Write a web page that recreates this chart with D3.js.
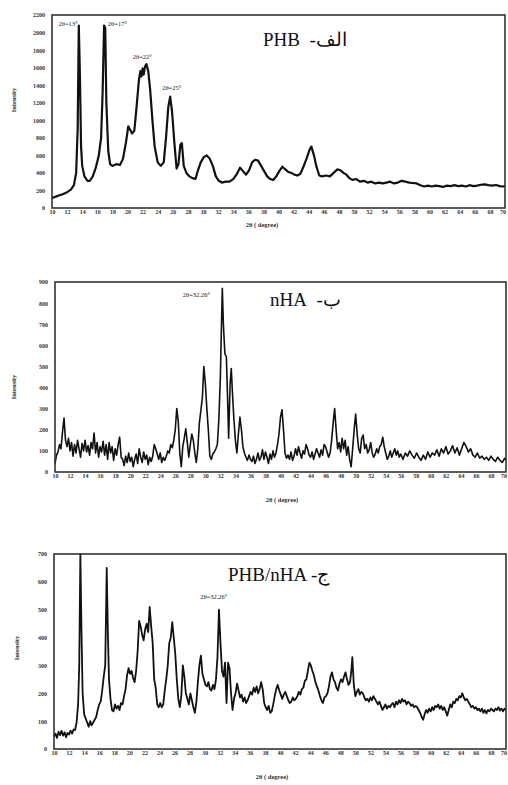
<!DOCTYPE html>
<html><head><meta charset="utf-8">
<script src="https://cdn.jsdelivr.net/npm/d3@7"></script>
<style>body{margin:0;background:#fff}svg{display:block}</style>
</head><body>
<svg id="c" width="508" height="785"></svg>
<script>
// ---------- DATA ----------
const xTicks = d3.range(10, 71, 2);
const phbYTicks = [0,200,400,600,800,1000,1200,1400,1600,1800,2000,2200];
const nhaYTicks = [0,100,200,300,400,500,600,700,800,900];
const compYTicks = [0,100,200,300,400,500,600,700];

const panelTitles = ["PHB\u00A0 -الف", "nHA\u00A0 -ب", "PHB/nHA -ج"];
const xTitle = "2θ ( degree)";
const yTitle = "Intensity";

// [theta, intensity, text, anchor]
const phbLabels = [[13.4,2075,"2θ=13°","end"],[17.4,2075,"2θ=17°","start"],[20.7,1700,"2θ=22°","start"],[24.6,1345,"2θ=25°","start"]];
const nhaLabels = [[27.0,829,"2θ=32.26°","start"]];
const compLabels = [[29.4,538,"2θ=32.26°","start"]];

const phbData = [[10,110],[10.5,130],[11,145],[11.5,160],[12,180],[12.5,210],[12.9,260],[13.2,400],[13.4,900],[13.55,2080],[13.7,1500],[13.85,700],[14,480],[14.3,360],[14.7,310],[15,310],[15.4,360],[15.8,460],[16.2,600],[16.5,800],[16.7,1300],[16.9,2080],[17.05,2050],[17.2,1200],[17.45,650],[17.7,500],[18,480],[18.5,500],[19,490],[19.4,560],[19.8,750],[20.1,930],[20.3,900],[20.6,850],[20.9,880],[21.2,1150],[21.5,1450],[21.7,1560],[21.85,1500],[22,1590],[22.15,1520],[22.3,1610],[22.5,1640],[22.75,1560],[23,1350],[23.3,1000],[23.6,700],[24,520],[24.4,480],[24.8,520],[25.1,800],[25.4,1150],[25.65,1270],[25.9,1100],[26.2,750],[26.5,450],[26.75,500],[27,720],[27.2,740],[27.45,480],[27.8,400],[28.2,360],[28.6,340],[29,330],[29.3,420],[29.7,520],[30.1,580],[30.5,600],[30.9,560],[31.3,480],[31.7,360],[32.1,310],[32.5,290],[33,300],[33.5,300],[34,330],[34.5,390],[34.9,460],[35.3,420],[35.7,380],[36.1,430],[36.5,520],[36.9,550],[37.3,540],[37.7,480],[38.1,420],[38.5,360],[38.9,330],[39.3,320],[39.7,360],[40.1,420],[40.5,470],[40.9,440],[41.3,410],[41.7,400],[42.1,380],[42.5,370],[42.9,390],[43.3,470],[43.7,560],[44.1,660],[44.35,700],[44.7,600],[45,480],[45.4,370],[45.8,360],[46.3,370],[46.8,360],[47.3,400],[47.8,440],[48.2,430],[48.6,400],[49,380],[49.4,340],[49.8,320],[50.3,330],[50.8,300],[51.3,310],[51.8,290],[52.3,300],[52.8,280],[53.3,290],[53.8,280],[54.3,290],[54.8,300],[55.3,280],[55.8,290],[56.3,310],[56.8,300],[57.3,290],[57.8,285],[58.3,280],[58.8,260],[59.3,245],[59.8,255],[60.3,245],[60.8,255],[61.3,250],[61.8,240],[62.3,255],[62.8,250],[63.3,260],[63.8,250],[64.3,255],[64.8,245],[65.3,260],[65.8,250],[66.3,255],[66.8,265],[67.3,270],[67.8,260],[68.3,255],[68.8,262],[69.3,250],[69.8,245],[70,250]];

const nhaData = [[10,40],[10.2,80],[10.4,95],[10.6,130],[10.8,110],[11,190],[11.2,255],[11.4,150],[11.6,120],[11.8,160],[12,100],[12.2,140],[12.4,75],[12.6,130],[12.8,90],[13,150],[13.2,110],[13.4,70],[13.6,135],[13.8,100],[14,150],[14.2,95],[14.4,125],[14.6,80],[14.8,140],[15,110],[15.2,185],[15.4,90],[15.6,140],[15.8,70],[16,120],[16.2,95],[16.4,145],[16.6,80],[16.8,130],[17,60],[17.2,140],[17.4,90],[17.6,120],[17.8,55],[18,110],[18.2,80],[18.4,130],[18.6,165],[18.8,70],[19,60],[19.2,30],[19.4,75],[19.6,45],[19.8,90],[20,50],[20.2,70],[20.4,25],[20.6,60],[20.8,85],[21,40],[21.2,110],[21.4,70],[21.6,45],[21.8,95],[22,60],[22.2,80],[22.4,35],[22.6,70],[22.8,50],[23,75],[23.2,130],[23.4,110],[23.6,85],[23.8,60],[24,90],[24.2,45],[24.4,70],[24.6,55],[24.8,75],[25,100],[25.2,90],[25.4,130],[25.6,115],[25.8,150],[26,200],[26.2,300],[26.4,240],[26.6,90],[26.8,25],[27,120],[27.2,160],[27.4,205],[27.6,140],[27.8,70],[28,130],[28.2,180],[28.4,150],[28.6,90],[28.8,45],[29,110],[29.2,230],[29.4,290],[29.6,350],[29.8,500],[30,420],[30.2,300],[30.4,200],[30.6,75],[30.8,60],[31,85],[31.2,95],[31.4,110],[31.6,130],[31.8,250],[32,450],[32.15,700],[32.26,870],[32.4,700],[32.6,560],[32.8,545],[33,300],[33.1,160],[33.3,420],[33.45,490],[33.6,380],[33.8,250],[34,150],[34.2,90],[34.4,180],[34.6,260],[34.8,200],[35,120],[35.2,90],[35.4,70],[35.6,55],[35.8,80],[36,60],[36.2,50],[36.4,75],[36.6,40],[36.8,60],[37,90],[37.2,55],[37.4,70],[37.6,105],[37.8,60],[38,95],[38.2,70],[38.4,40],[38.6,85],[38.8,60],[39,100],[39.2,70],[39.4,90],[39.6,130],[39.8,180],[40,260],[40.2,295],[40.4,200],[40.6,90],[40.8,65],[41,80],[41.2,60],[41.4,95],[41.6,55],[41.8,75],[42,110],[42.2,80],[42.4,120],[42.6,90],[42.8,65],[43,100],[43.2,85],[43.4,130],[43.6,110],[43.8,80],[44,70],[44.2,95],[44.4,60],[44.6,85],[44.8,110],[45,90],[45.2,70],[45.4,105],[45.6,80],[45.8,130],[46,120],[46.2,95],[46.4,70],[46.6,90],[46.8,150],[47,230],[47.2,300],[47.4,200],[47.6,110],[47.8,140],[48,95],[48.2,160],[48.4,110],[48.6,150],[48.8,80],[49,120],[49.2,60],[49.4,25],[49.6,110],[49.8,200],[50,275],[50.2,180],[50.4,110],[50.6,90],[50.8,160],[51,175],[51.2,110],[51.4,130],[51.6,90],[51.8,105],[52,140],[52.2,90],[52.4,70],[52.6,85],[52.8,110],[53,90],[53.2,120],[53.4,130],[53.6,165],[53.8,120],[54,90],[54.2,60],[54.4,75],[54.6,100],[54.8,70],[55,90],[55.2,110],[55.4,80],[55.6,100],[55.8,70],[56,85],[56.3,60],[56.6,90],[56.9,75],[57.2,100],[57.5,80],[57.8,65],[58.1,90],[58.4,70],[58.7,55],[59,80],[59.3,60],[59.6,95],[59.9,70],[60.2,90],[60.5,80],[60.8,105],[61.1,75],[61.4,110],[61.7,90],[62,120],[62.3,85],[62.6,100],[62.9,125],[63.2,90],[63.5,115],[63.8,80],[64.1,110],[64.4,140],[64.7,120],[65,95],[65.3,110],[65.6,80],[65.9,70],[66.2,90],[66.5,65],[66.8,75],[67.1,60],[67.4,70],[67.7,55],[68,75],[68.3,60],[68.6,50],[68.9,70],[69.2,55],[69.5,45],[69.8,65],[70,55]];

const compData = [[10,45],[10.2,55],[10.4,40],[10.6,62],[10.8,50],[11,65],[11.2,48],[11.4,60],[11.6,42],[11.8,58],[12,52],[12.2,66],[12.4,55],[12.6,70],[12.8,68],[13,95],[13.2,160],[13.35,300],[13.5,700],[13.65,420],[13.8,200],[14,125],[14.2,110],[14.4,95],[14.6,80],[14.8,100],[15,85],[15.2,95],[15.4,105],[15.6,115],[15.8,140],[16,160],[16.2,170],[16.4,210],[16.6,260],[16.8,300],[17,650],[17.15,420],[17.3,250],[17.5,180],[17.7,140],[17.9,135],[18.1,160],[18.3,145],[18.5,155],[18.7,140],[18.9,165],[19.1,160],[19.3,190],[19.5,215],[19.7,265],[19.9,290],[20.1,270],[20.3,280],[20.5,255],[20.7,240],[20.9,280],[21.1,350],[21.3,460],[21.5,440],[21.7,410],[21.9,390],[22.1,430],[22.3,450],[22.5,420],[22.7,510],[22.9,440],[23.1,380],[23.3,250],[23.5,220],[23.7,160],[23.9,150],[24.1,165],[24.3,150],[24.5,160],[24.7,210],[24.9,250],[25.1,300],[25.3,380],[25.5,400],[25.7,455],[25.9,400],[26.1,340],[26.3,250],[26.5,180],[26.7,150],[26.9,190],[27.1,300],[27.3,260],[27.5,200],[27.7,180],[27.9,160],[28.1,200],[28.3,175],[28.5,150],[28.7,130],[28.9,170],[29.1,240],[29.3,300],[29.5,335],[29.7,270],[29.9,250],[30.1,230],[30.3,225],[30.5,240],[30.7,215],[30.9,210],[31.1,230],[31.3,215],[31.5,250],[31.7,330],[31.9,500],[32.1,380],[32.3,280],[32.5,260],[32.7,310],[32.9,165],[33.1,310],[33.3,290],[33.5,200],[33.7,140],[33.9,180],[34.1,200],[34.3,235],[34.5,210],[34.7,185],[34.9,195],[35.1,170],[35.3,185],[35.5,165],[35.7,175],[35.9,190],[36.1,205],[36.3,195],[36.5,220],[36.7,205],[36.9,225],[37.1,200],[37.3,215],[37.5,240],[37.7,215],[37.9,165],[38.1,150],[38.3,140],[38.5,155],[38.7,130],[38.9,135],[39.1,160],[39.3,190],[39.5,215],[39.7,230],[39.9,210],[40.1,195],[40.3,180],[40.5,195],[40.7,205],[40.9,190],[41.1,175],[41.3,165],[41.5,170],[41.7,185],[41.9,175],[42.1,180],[42.3,190],[42.5,205],[42.7,195],[42.9,215],[43.1,220],[43.3,245],[43.5,250],[43.7,280],[43.9,310],[44.1,300],[44.3,280],[44.5,265],[44.7,240],[44.9,225],[45.1,210],[45.3,190],[45.5,175],[45.7,165],[45.9,185],[46.1,190],[46.3,200],[46.5,225],[46.7,260],[46.9,275],[47.1,250],[47.3,240],[47.5,220],[47.7,210],[47.9,235],[48.1,250],[48.3,240],[48.5,260],[48.7,275],[48.9,250],[49.1,230],[49.3,240],[49.5,290],[49.6,330],[49.8,230],[50,190],[50.2,205],[50.4,215],[50.6,195],[50.8,205],[51,200],[51.2,185],[51.4,175],[51.6,180],[51.8,170],[52,185],[52.2,175],[52.4,190],[52.6,180],[52.8,170],[53,160],[53.2,170],[53.4,155],[53.6,140],[53.8,150],[54,160],[54.2,145],[54.4,155],[54.6,150],[54.8,160],[55,165],[55.2,150],[55.4,170],[55.6,160],[55.8,175],[56,165],[56.2,180],[56.4,170],[56.6,175],[56.8,160],[57,170],[57.2,165],[57.4,155],[57.6,160],[57.8,150],[58,155],[58.2,150],[58.4,140],[58.6,130],[58.8,115],[59,105],[59.2,125],[59.4,140],[59.6,130],[59.8,145],[60,135],[60.2,150],[60.4,140],[60.6,155],[60.8,150],[61,160],[61.2,145],[61.4,155],[61.6,140],[61.8,150],[62,135],[62.2,120],[62.4,140],[62.6,160],[62.8,150],[63,170],[63.2,165],[63.4,180],[63.6,175],[63.8,190],[64,185],[64.2,200],[64.4,185],[64.6,175],[64.8,180],[65,170],[65.2,160],[65.4,150],[65.6,155],[65.8,145],[66,150],[66.2,140],[66.4,145],[66.6,135],[66.8,145],[67,130],[67.2,140],[67.4,128],[67.6,140],[67.8,135],[68,145],[68.2,140],[68.4,135],[68.6,145],[68.8,140],[69,150],[69.2,138],[69.4,145],[69.6,135],[69.8,145],[70,140]];

// ---------- DRAW ----------
const svg = d3.select("#c");
const serif = "'Liberation Serif','DejaVu Serif',serif";

function panel(o){
  const x = d3.scaleLinear().domain([10,70]).range([o.left,o.right]);
  const y = d3.scaleLinear().domain([0,o.yMax]).range([o.bottom,o.top]);
  const g = svg.append("g");

  const ya = d3.axisLeft(y).tickValues(o.yTicks).tickSize(0).tickPadding(0).tickFormat(d3.format("d"));
  const yg = g.append("g").attr("transform",`translate(${o.left-7},0)`).call(ya);
  yg.select(".domain").remove();
  yg.selectAll("text").attr("font-family",serif).attr("font-size",6).attr("font-weight","bold").attr("fill","#333");

  const xa = d3.axisBottom(x).tickValues(xTicks).tickSize(0).tickPadding(0).tickFormat(d3.format("d"));
  const xg = g.append("g").attr("transform",`translate(0,${o.bottom+2})`).call(xa);
  xg.select(".domain").remove();
  xg.selectAll("text").attr("font-family",serif).attr("font-size",6).attr("font-weight","bold").attr("fill","#333")
    .attr("text-anchor",d=>d===70?"end":"middle").attr("dx",d=>d===70?"0.5":"0");

  const line = d3.line().x(d=>x(d[0])).y(d=>y(Math.min(d[1],o.yMax)));
  g.append("path").datum(o.data).attr("d",line).attr("fill","none")
    .attr("stroke","#111").attr("stroke-width",o.sw).attr("stroke-linejoin","round");

  g.append("rect").attr("x",o.left).attr("y",o.top).attr("width",o.right-o.left).attr("height",o.bottom-o.top)
    .attr("fill","none").attr("stroke","#333").attr("stroke-width",1.6);

  g.selectAll(".pk").data(o.labels).enter().append("text")
    .attr("x",d=>x(d[0])).attr("y",d=>y(d[1]))
    .attr("text-anchor",d=>d[3]).attr("font-family",serif).attr("font-size",6.5).attr("fill","#222")
    .text(d=>d[2]);

  g.append("text").attr("x",o.titleX).attr("y",o.titleY).attr("font-family",serif).attr("font-size",19)
    .attr("fill","#111").style("white-space","pre").text(o.title);

  g.append("text").attr("x",o.xtX).attr("y",o.xtY).attr("text-anchor","middle").attr("font-family",serif)
    .attr("font-size",6.5).attr("font-weight","bold").attr("fill","#333").text(xTitle);
  g.append("text").attr("transform",`translate(${o.ytX},${o.ytY}) rotate(-90)`).attr("text-anchor","middle")
    .attr("font-family",serif).attr("font-size",6.5).attr("font-weight","bold").attr("fill","#333").text(yTitle);
}

panel({left:52,right:505,top:15,bottom:208,yMax:2200,yTicks:phbYTicks,data:phbData,sw:2.2,
  labels:phbLabels,title:panelTitles[0],titleX:263,titleY:46,
  xtX:262,xtY:227,ytX:16,ytY:100});
panel({left:55,right:506,top:282,bottom:472,yMax:900,yTicks:nhaYTicks,data:nhaData,sw:1.6,
  labels:nhaLabels,title:panelTitles[1],titleX:270,titleY:306,
  xtX:282,xtY:502,ytX:16,ytY:387});
panel({left:54,right:506,top:554,bottom:749,yMax:700,yTicks:compYTicks,data:compData,sw:1.8,
  labels:compLabels,title:panelTitles[2],titleX:228,titleY:581,
  xtX:272,xtY:779,ytX:19,ytY:648});
</script>
</body></html>
